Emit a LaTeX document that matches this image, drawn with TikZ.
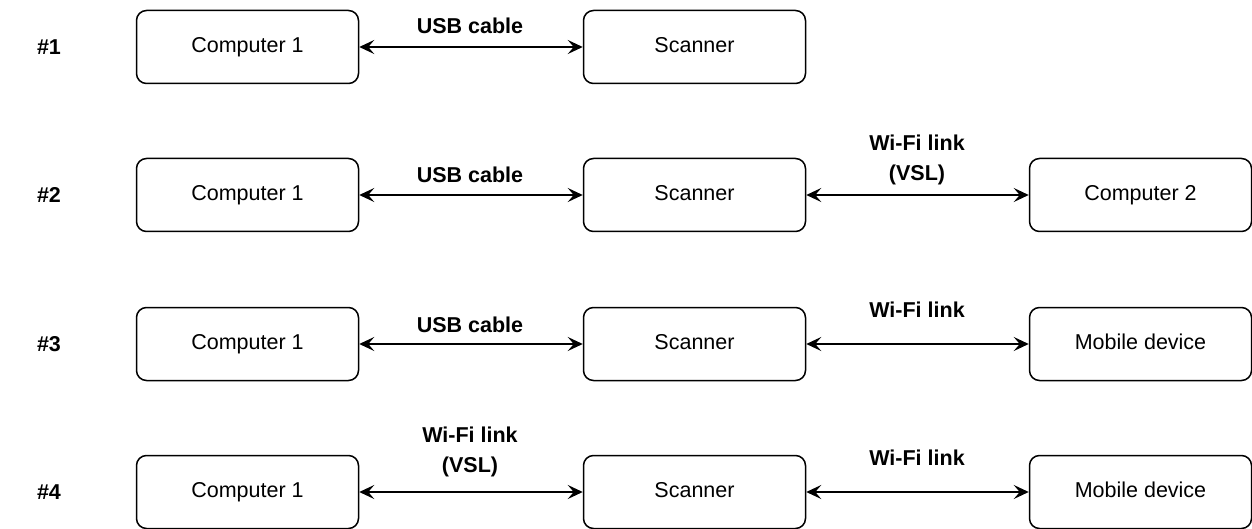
\documentclass[tikz,border=0pt]{standalone}
\usepackage{fontspec}
\setmainfont{Liberation Sans}
\usetikzlibrary{arrows.meta}
\begin{document}
\begin{tikzpicture}[x=1pt,y=-1pt,
  box/.style={draw, line width=1.5pt, rounded corners=10pt, minimum width=222pt, minimum height=73pt, font=\fontsize{21.5}{24}\selectfont, inner sep=0pt, text height=15.5pt, text depth=4.5pt},
  link/.style={line width=1.4pt, {Stealth[length=15pt,width=14pt,inset=6pt]}-{Stealth[length=15pt,width=14pt,inset=6pt]}},
  lbl/.style={font=\bfseries\fontsize{21.5}{30}\selectfont, align=center, inner sep=0pt},
  num/.style={font=\bfseries\fontsize{21.5}{24}\selectfont, inner sep=0pt}]
\useasboundingbox (0,0) rectangle (1252,529);
% row 1
\node[num] (n1) at (49,47) {\#1};
\node[box] (a1) at (247.5,47) {Computer 1};
\node[box] (b1) at (694.5,47) {Scanner};
\draw[link] (a1) -- (b1);
\node[lbl] (l1) at (470,26) {USB cable};
% row 2
\node[num] (n2) at (49,195) {\#2};
\node[box] (a2) at (247.5,195) {Computer 1};
\node[box] (b2) at (694.5,195) {Scanner};
\node[box] (c2) at (1140.5,195) {Computer 2};
\draw[link] (a2) -- (b2);
\draw[link] (b2) -- (c2);
\node[lbl] (l2) at (470,175) {USB cable};
\node[lbl] (m2) at (917,160) {Wi-Fi link\\(VSL)};
% row 3
\node[num] (n3) at (49,344) {\#3};
\node[box] (a3) at (247.5,344) {Computer 1};
\node[box] (b3) at (694.5,344) {Scanner};
\node[box] (c3) at (1140.5,344) {Mobile device};
\draw[link] (a3) -- (b3);
\draw[link] (b3) -- (c3);
\node[lbl] (l3) at (470,325) {USB cable};
\node[lbl] (m3) at (917,310) {Wi-Fi link};
% row 4
\node[num] (n4) at (49,492) {\#4};
\node[box] (a4) at (247.5,492) {Computer 1};
\node[box] (b4) at (694.5,492) {Scanner};
\node[box] (c4) at (1140.5,492) {Mobile device};
\draw[link] (a4) -- (b4);
\draw[link] (b4) -- (c4);
\node[lbl] (l4) at (470,452) {Wi-Fi link\\(VSL)};
\node[lbl] (m4) at (917,458) {Wi-Fi link};
\end{tikzpicture}
\end{document}
